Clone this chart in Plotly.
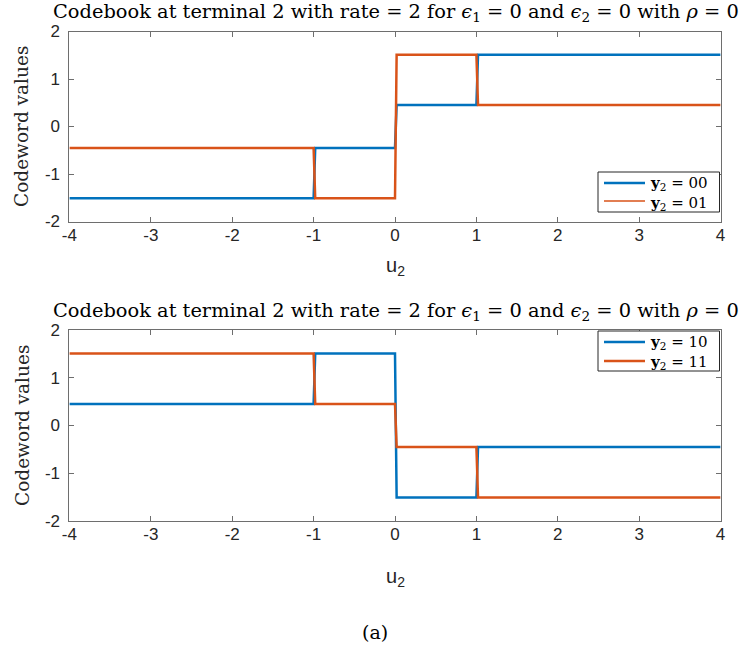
import plotly.graph_objects as go

# Data
u_breaks = [-4, -1, 0, 1, 4]
jump_width = 0.02
top_00 = [-1.510, -0.4528, 0.4528, 1.510]
top_01 = [-0.4528, -1.510, 1.510, 0.4528]
bot_10 = [0.4528, 1.510, -1.510, -0.4528]
bot_11 = [1.510, 0.4528, -0.4528, -1.510]
x_ticks = [-4, -3, -2, -1, 0, 1, 2, 3, 4]
x_ticktext = ["-4", "-3", "-2", "-1", "0", "1", "2", "3", "4"]
y_ticks = [-2, -1, 0, 1, 2]
y_ticktext = ["-2", "-1", "0", "1", "2"]
legend_names_top = ["<b>y</b><sub>2</sub> = 00", "<b>y</b><sub>2</sub> = 01"]
legend_names_bot = ["<b>y</b><sub>2</sub> = 10", "<b>y</b><sub>2</sub> = 11"]

BLUE = "#0072BD"
ORANGE = "#D95319"
SERIF = "DejaVu Serif, Liberation Serif, serif"
SANS = "Liberation Sans, Arial, sans-serif"
W, H = 741, 664


def step_xy(breaks, levels):
    xs, ys = [], []
    for i, lv in enumerate(levels):
        x0 = breaks[i] if i == 0 else breaks[i] + jump_width
        xs += [x0, breaks[i + 1]]
        ys += [lv, lv]
    return xs, ys


def px_x(p):
    return p / W


def px_y(p):
    return 1 - p / H


fig = go.Figure()

title_txt = ("Codebook at terminal 2 with rate = 2 for <i>ϵ</i><sub>1</sub> = 0 and "
             "<i>ϵ</i><sub>2</sub> = 0 with <i>ρ</i> = 0")

series = [
    ("x", "y", top_00, BLUE, 2.5, legend_names_top[0]),
    ("x", "y", top_01, ORANGE, 2.5, legend_names_top[1]),
    ("x2", "y2", bot_10, BLUE, 2.5, legend_names_bot[0]),
    ("x2", "y2", bot_11, ORANGE, 2.5, legend_names_bot[1]),
]
for xa, ya, lv, col, w, name in series:
    xs, ys = step_xy(u_breaks, lv)
    fig.add_trace(go.Scatter(x=xs, y=ys, mode="lines", xaxis=xa, yaxis=ya, name=name,
                             line=dict(color=col, width=w), showlegend=False,
                             hoverinfo="skip"))

axis_common = dict(
    showgrid=False, zeroline=False, showline=True, linecolor="#6e6e6e", linewidth=1,
    mirror="allticks", ticks="inside", ticklen=5, tickcolor="#6e6e6e", automargin=False,
    tickfont=dict(family=SANS, size=17, color="#262626"),
)
xdom = [69.4 / W, 720.6 / W]
top_dom = [1 - 221.5 / H, 1 - 31.5 / H]
bot_dom = [1 - 521 / H, 1 - 330 / H]

annotations = []
for ty, uy, cy in [(12, 266, 127), (311, 577, 426)]:
    annotations.append(dict(text=title_txt, x=px_x(396), y=px_y(ty), xref="paper", yref="paper",
                            xanchor="center", yanchor="middle", showarrow=False,
                            font=dict(family=SERIF, size=19.4, color="black")))
    annotations.append(dict(text="u<sub>2</sub>", x=px_x(395), y=px_y(uy), xref="paper", yref="paper",
                            xanchor="center", yanchor="middle", showarrow=False,
                            font=dict(family=SANS, size=20, color="#262626")))
    annotations.append(dict(text="Codeword values", x=px_x(22), y=px_y(cy), xref="paper", yref="paper",
                            xanchor="center", yanchor="middle", showarrow=False, textangle=-90,
                            font=dict(family=SERIF, size=18.5, color="#262626")))
annotations.append(dict(text="(a)", x=px_x(375), y=px_y(632), xref="paper", yref="paper",
                        xanchor="center", yanchor="middle", showarrow=False,
                        font=dict(family=SERIF, size=19, color="black")))

# Legend boxes (MATLAB style, compact)
shapes = []
legend_specs = [
    (172, 212, [(183, BLUE, 2.5), (201, ORANGE, 1.5)], legend_names_top),
    (331, 371, [(342, BLUE, 2.5), (361, ORANGE, 2.5)], legend_names_bot),
]
for top, bot, items, names in legend_specs:
    shapes.append(dict(type="rect", xref="paper", yref="paper",
                       x0=px_x(598), x1=px_x(719.5), y0=px_y(bot), y1=px_y(top),
                       line=dict(color="#262626", width=1), fillcolor="white", layer="above"))
    for yy, col, lw in items:
        shapes.append(dict(type="line", xref="paper", yref="paper",
                           x0=px_x(604), x1=px_x(645), y0=px_y(yy), y1=px_y(yy),
                           line=dict(color=col, width=lw), layer="above"))
    mid = (items[0][0] + items[1][0]) / 2 + 1.5
    annotations.append(dict(text="<br>".join(names), x=px_x(648), y=px_y(mid),
                            xref="paper", yref="paper", align="left",
                            xanchor="left", yanchor="middle", showarrow=False,
                            font=dict(family=SERIF, size=15, color="black")))

fig.update_layout(
    template="none",
    width=W, height=H, margin=dict(l=0, r=0, t=0, b=0),
    paper_bgcolor="white", plot_bgcolor="white", showlegend=False,
    xaxis=dict(axis_common, domain=xdom, range=[-4, 4], tickvals=x_ticks, ticktext=x_ticktext,
               anchor="y", ticklabelstandoff=-2),
    yaxis=dict(axis_common, domain=top_dom, range=[-2, 2], tickvals=y_ticks, ticktext=y_ticktext,
               anchor="x", ticklabelstandoff=5),
    xaxis2=dict(axis_common, domain=xdom, range=[-4, 4], tickvals=x_ticks, ticktext=x_ticktext,
                anchor="y2", ticklabelstandoff=-2),
    yaxis2=dict(axis_common, domain=bot_dom, range=[-2, 2], tickvals=y_ticks, ticktext=y_ticktext,
                anchor="x2", ticklabelstandoff=5),
    annotations=annotations,
    shapes=shapes,
)

fig.write_html("out.html")
